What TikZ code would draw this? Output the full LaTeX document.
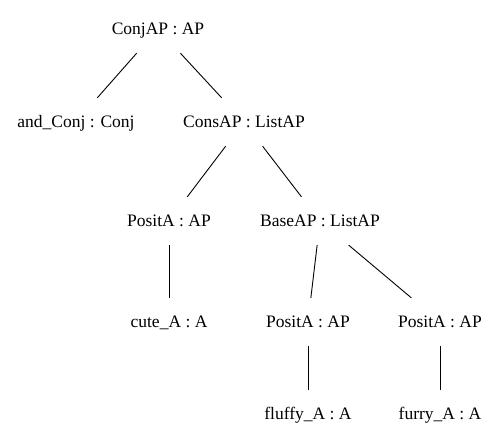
\documentclass[tikz,border=0pt]{standalone}
\usepackage{fontspec}
\setmainfont{Liberation Serif}
\begin{document}
\begin{tikzpicture}[x=1pt,y=-1pt,
  tn/.style={anchor=base,inner xsep=0pt,inner ysep=0pt,text height=14pt,text depth=2pt,minimum height=48pt,font=\fontsize{17.5}{20}\selectfont},
  br/.style={line width=0.9pt}]
\useasboundingbox (0,0) rectangle (499,443);
\node[tn] (conjap) at (158,35) {ConjAP : AP};
\node[tn] (andconj) at (76,128) {and\_Conj : Conj};
\node[tn] (consap) at (244,128) {ConsAP : ListAP};
\node[tn] (posita1) at (169,227) {PositA : AP};
\node[tn] (baseap) at (320,227) {BaseAP : ListAP};
\node[tn] (cute) at (169,328) {cute\_A : A};
\node[tn] (posita2) at (308,328) {PositA : AP};
\node[tn] (posita3) at (440,328) {PositA : AP};
\node[tn] (fluffy) at (308,420) {fluffy\_A : A};
\node[tn] (furry) at (440,420) {furry\_A : A};
\draw[br] (conjap) -- (andconj);
\draw[br] (conjap) -- (consap);
\draw[br] (consap) -- (posita1);
\draw[br] (consap) -- (baseap);
\draw[br] (posita1) -- (cute);
\draw[br] (baseap) -- (posita2);
\draw[br] (baseap) -- (posita3);
\draw[br] (posita2) -- (fluffy);
\draw[br] (posita3) -- (furry);
\end{tikzpicture}
\end{document}
